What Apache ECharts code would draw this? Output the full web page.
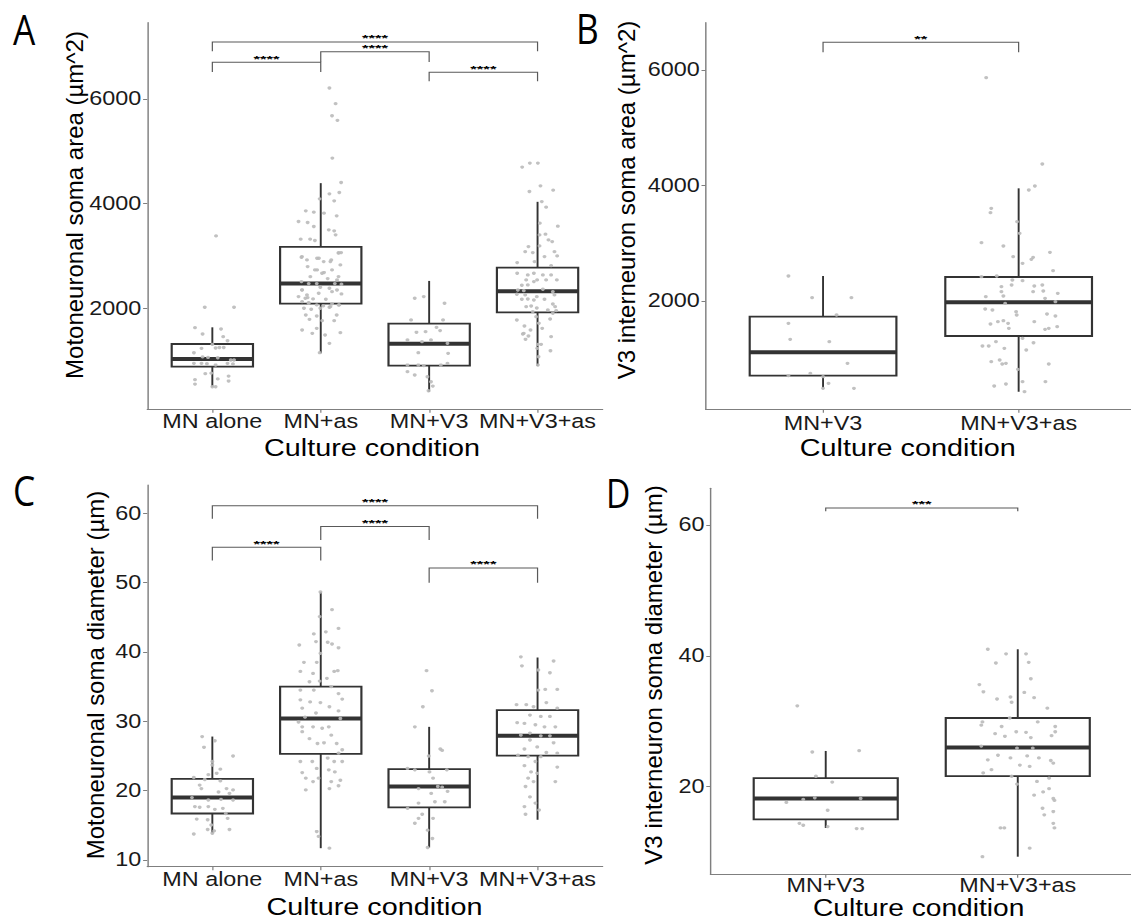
<!DOCTYPE html>
<html>
<head>
<meta charset="utf-8">
<script src="https://cdn.jsdelivr.net/npm/echarts@6/dist/echarts.min.js"></script>
<style>
html,body{margin:0;padding:0;background:#fff;}
#wrap{width:1131px;height:921px;overflow:hidden;position:relative;background:#fff;}
#chart{width:943px;height:921px;transform:scaleX(1.19936);transform-origin:0 0;}
</style>
</head>
<body>
<div id="wrap"><div id="chart"></div></div>
<script>
// ---------- DATA ----------
const catsMN = ['MN alone', 'MN+as', 'MN+V3', 'MN+V3+as'];
const catsV3 = ['MN+V3', 'MN+V3+as'];
const ticksArea = [2000, 4000, 6000];
const ticksDiamC = [10, 20, 30, 40, 50, 60];
const ticksDiamD = [20, 40, 60];

// box stats: [lower whisker, Q1, median, Q3, upper whisker]
const boxA = [[501, 884, 1030, 1317, 1636], [1139, 2089, 2472, 3174, 4392], [405, 903, 1324, 1707, 2523], [896, 1923, 2325, 2778, 4035]];
const boxB = [[488, 707, 1111, 1729, 2433], [429, 1394, 1977, 2416, 3951]];
const boxC = [[13.85, 16.7, 19.0, 21.7, 27.8], [11.7, 25.3, 30.4, 35.0, 48.65], [11.8, 17.6, 20.6, 23.1, 29.2], [15.8, 25.05, 27.9, 31.6, 39.2]];
const boxD = [[13.7, 15.0, 18.2, 21.3, 25.46], [9.3, 21.6, 26.0, 30.5, 41.0]];

// significance brackets: [from cat, to cat, bracket level, tip level]
const brA = [[1, 4, 7091, 6912], [2, 3, 6906, 6708], [1, 2, 6702, 6517], [3, 4, 6511, 6338]];
const brALabels = ['****', '****', '****', '****'];
const brB = [[1, 2, 6480, 6307]];
const brBLabels = ['**'];
const brC = [[1, 4, 61.1, 59.2], [2, 3, 58.1, 56.15], [1, 2, 55.1, 53.2], [3, 4, 52.1, 50.0]];
const brCLabels = ['****', '****', '****', '****'];
const brD = [[1, 2, 62.6, 62.1]];
const brDLabels = ['***'];

// jittered points: [horizontal jitter (category units), value]
const ptsA_alone = [[0.034,3384],[-0.07,2019],[0.2,2019],[-0.16,1629],[0.08,1604],[-0.09,1508],[0.1,1457],[0.14,1380],[0,1311],[-0.1,1234],[0.03,1240],[0.065,1250],[0.105,1250],[-0.17,1150],[-0.09,1070],[-0.04,1060],[0.05,1055],[0.17,1011],[0.2,1011],[-0.17,947],[-0.1,947],[-0.05,940],[0.14,947],[0.19,935],[0.03,915],[-0.065,750],[-0.01,760],[0.15,704],[-0.16,636],[0.05,650],[0.15,609],[-0.16,551],[0,500],[0.03,500]];
const ptsA_as = [[0.08,6210],[0.137,5911],[0.104,5681],[0.154,5592],[0.107,4871],[0.188,4405],[0.08,4188],[0.171,4214],[-0.01,4092],[0.124,4054],[-0.138,3863],[-0.064,3837],[0.03,3818],[0.147,3767],[-0.205,3659],[-0.121,3640],[-0.064,3563],[0.074,3499],[0.124,3480],[0.137,3404],[-0.185,3321],[-0.098,3321],[-0.054,3295],[0.164,3053],[0.188,3065],[-0.017,2957],[-0.178,2976],[0.097,2925],[0.181,2829],[-0.121,2797],[-0.054,2734],[0.03,2683],[0.164,2606],[0.064,2568],[-0.178,2510],[-0.111,2472],[-0.037,2472],[0.13,2472],[0.191,2459],[-0.172,2351],[-0.004,2402],[0.08,2383],[-0.205,2223],[-0.121,2204],[-0.071,2179],[0.047,2172],[0.191,2274],[-0.172,2128],[-0.111,2108],[-0.037,2064],[0.023,2045],[0.104,2083],[0.171,2064],[-0.155,2000],[-0.088,1981],[-0.004,2000],[0.08,2019],[-0.138,1872],[-0.037,1853],[0.147,1872],[-0.104,1789],[0.013,1764],[0.124,1764],[-0.172,1585],[-0.037,1617],[0.181,1534],[-0.078,1521],[0.04,1490],[0.08,1330],[-0.01,1151],[-0.173,2988],[-0.127,2924],[-0.034,2957],[0.027,2892],[0.089,2892],[0.165,3064],[-0.034,2733],[-0.096,2605],[0.012,2670],[0.104,2733],[0.15,2542],[-0.173,2350],[-0.127,2255],[-0.019,2287],[0.104,2318],[0.15,2350],[-0.142,2191],[-0.112,2096],[0.089,2031],[0.165,2063]];
const ptsA_V3 = [[-0.133,2191],[-0.05,2223],[0.142,2096],[-0.167,1777],[0.128,1777],[0.068,1636],[-0.033,1553],[-0.117,1541],[0.101,1573],[-0.2,1394],[-0.066,1362],[0.017,1394],[0.169,1330],[-0.1,1151],[0.175,1139],[-0.2,915],[-0.1,915],[-0.05,903],[0.108,915],[0.169,947],[-0.2,788],[-0.133,724],[-0.016,692],[0.017,596],[0.034,513],[-0.006,424]];
const ptsA_V3as = [[-0.142,4699],[-0.071,4775],[0.003,4775],[0.027,4341],[-0.075,4232],[0.144,4258],[0.039,4040],[0.079,3933],[0.021,3627],[0.187,3569],[0.018,3403],[0.073,3416],[0.101,3307],[0.135,3275],[-0.084,3179],[0.018,3192],[-0.114,3083],[-0.044,3064],[0.156,3083],[0.064,2988],[0.181,3001],[-0.188,2873],[-0.028,2892],[0.125,2815],[-0.188,2670],[-0.09,2637],[-0.034,2670],[-0.004,2542],[0.049,2637],[0.079,2542],[0.125,2637],[0.178,2542],[-0.105,2542],[-0.145,2440],[-0.09,2446],[-0.034,2510],[-0.182,2350],[-0.127,2337],[0.049,2364],[0.141,2318],[-0.191,2268],[-0.114,2255],[-0.007,2222],[0.156,2255],[-0.145,2172],[-0.09,2178],[-0.034,2159],[0.064,2172],[-0.105,2031],[-0.059,2044],[-0.007,2006],[0.141,2082],[0.162,2031],[-0.044,1935],[0.095,1968],[0.141,1904],[0.172,1955],[-0.191,1776],[-0.013,1839],[0.116,1795],[-0.121,1661],[-0.065,1585],[0.012,1713],[0.043,1617],[-0.127,1521],[-0.084,1470],[-0.111,1407],[0.125,1457],[0.003,1311],[0.033,1311],[0.119,1189],[-0.004,1234],[0.009,1074],[0.003,915],[-0.136,1508]];

const ptsB_V3 = [[-0.177,2433],[-0.056,2058],[0.145,2058],[0.069,1758],[-0.177,1613],[-0.168,1336],[0.032,1296],[0.125,921],[-0.065,747],[-0.177,707],[0,690],[0.028,574],[0.158,488],[0,488]];
const ptsB_V3as = [[-0.166,5867],[0.121,4372],[0.083,3991],[0.052,3922],[-0.14,3605],[-0.144,3530],[-0.008,3374],[0.005,3172],[-0.19,3010],[-0.078,2952],[-0.028,2768],[0.074,2756],[0.16,2843],[0.02,2652],[0.065,2722],[0.176,2525],[-0.19,2421],[-0.112,2433],[-0.032,2364],[0.02,2352],[-0.088,2248],[-0.036,2277],[0.08,2260],[0.121,2277],[-0.088,2162],[0.074,2162],[0.126,2173],[0.2,2133],[-0.168,2075],[-0.078,2087],[0.135,2046],[-0.069,1960],[0.188,1988],[-0.171,1861],[-0.134,1844],[-0.013,1815],[-0.01,1758],[0.145,1775],[0.188,1740],[-0.106,1642],[-0.078,1659],[0.08,1642],[-0.144,1602],[-0.054,1613],[-0.05,1527],[0.135,1509],[0.154,1527],[0.197,1556],[0.02,1354],[0.076,1278],[-0.185,1221],[-0.153,1221],[-0.116,1296],[-0.073,1180],[0.039,1152],[-0.14,950],[-0.097,978],[-0.065,921],[-0.084,909],[0.154,909],[-0.004,817],[0.02,603],[0.137,603],[-0.065,563],[-0.125,528],[0.03,430]];

const ptsC_alone = [[-0.094,27.8],[0.023,27.2],[-0.077,26.25],[0.191,25.0],[0,24.2],[0,23.7],[0.074,23.1],[-0.037,22.3],[0.04,22.5],[-0.171,21.9],[-0.07,21.6],[0.074,21.4],[-0.117,20.8],[-0.101,20.3],[0.131,20.3],[0.191,20.1],[0.057,19.8],[0.158,19.6],[-0.188,19.0],[-0.037,18.65],[0.08,18.75],[0.191,18.65],[-0.161,17.7],[-0.117,17.6],[-0.037,17.7],[0.023,17.3],[0.097,17.45],[0.124,16.7],[0.141,16.0],[-0.144,15.9],[-0.043,15.8],[-0.01,15.05],[-0.043,14.4],[0.017,14.2],[0.158,14.4],[-0.171,13.75],[0,13.85]];
const ptsC_as = [[-0.003,48.65],[0.104,46.1],[-0.01,45.1],[0.164,43.4],[0.047,42.9],[-0.064,42.6],[-0.044,41.5],[0.064,41.4],[-0.198,41.0],[0.104,41.15],[0.164,40.6],[-0.003,39.8],[-0.155,38.5],[-0.037,38.5],[-0.188,37.2],[-0.071,36.9],[0.124,37.2],[0.157,37.3],[0.057,36.2],[-0.104,35.7],[-0.01,35.8],[0.097,35.0],[-0.188,34.5],[-0.064,34.5],[0.164,34.0],[0.198,33.2],[-0.188,33.1],[-0.098,32.8],[-0.003,32.7],[0.08,32.1],[-0.171,31.9],[0.164,31.5],[-0.044,31.2],[-0.145,30.6],[0.181,30.4],[-0.205,29.9],[-0.171,29.2],[-0.071,29.2],[0.013,29.0],[0.074,29.2],[-0.171,28.5],[0.097,28.0],[-0.104,27.5],[-0.03,26.8],[0.03,26.9],[0.147,26.8],[0.164,25.4],[0.198,25.9],[0.064,24.7],[-0.188,24.2],[-0.078,24.2],[0.124,24.2],[0.198,24.2],[-0.037,23.2],[0.074,23.0],[-0.171,22.6],[0.13,22.7],[-0.138,21.8],[-0.02,21.8],[0.097,21.3],[-0.071,21.3],[0.181,21.5],[0.08,20.3],[-0.138,20.1],[0.164,20.7],[-0.02,13.4],[-0.037,14.1],[0.08,11.7]];
const ptsC_V3 = [[-0.024,37.3],[0.026,34.4],[-0.058,32.1],[-0.132,29.2],[-0.004,25.0],[0.103,26.0],[0.12,25.8],[-0.2,23.2],[-0.132,23.0],[0.003,22.7],[0.163,23.0],[0.036,21.8],[-0.098,20.3],[0.08,20.6],[0.12,20.5],[0.019,19.6],[0.17,19.9],[-0.098,18.2],[0.053,18.4],[0.144,18.4],[-0.199,17.45],[-0.064,16.6],[-0.098,16.0],[-0.132,15.3],[0.036,16.0],[-0.014,14.3],[0.03,13.1],[-0.014,11.8]];
const ptsC_V3as = [[-0.154,39.3],[0.148,38.7],[-0.144,38.0],[0.007,37.4],[0.114,37.0],[0.007,34.5],[0.071,34.6],[0.182,34.6],[-0.104,32.4],[-0.037,32.1],[0.081,32.7],[-0.194,32.4],[0.182,31.9],[-0.07,30.9],[0.03,30.7],[0.114,30.7],[-0.188,29.8],[-0.121,29.7],[-0.02,29.5],[0.064,29.2],[0.164,29.2],[-0.154,28.0],[-0.07,28.3],[0.03,27.9],[0.114,27.9],[-0.07,27.3],[0.148,26.9],[-0.003,26.3],[-0.121,26.0],[0.081,25.5],[-0.181,25.1],[-0.087,24.9],[0.03,24.9],[0.182,25.4],[-0.02,24.2],[-0.121,23.6],[-0.06,22.7],[-0.003,22.5],[0.182,23.4],[-0.087,21.8],[-0.037,21.3],[-0.111,20.6],[0.164,21.3],[-0.07,19.1],[-0.02,18.2],[-0.121,17.7],[0.014,17.2],[-0.111,16.6]];

const ptsD_V3 = [[-0.148,32.35],[-0.07,25.3],[0.174,25.5],[-0.051,21.6],[0.034,20.7],[-0.205,17.6],[-0.117,18.06],[-0.057,18.3],[0.182,18.2],[0.01,16.4],[-0.137,14.4],[-0.117,14.1],[0.161,13.6],[0.19,13.6],[0.01,13.9]];
const ptsD_V3as = [[-0.156,41.0],[-0.061,40.3],[0.043,40.3],[-0.114,38.9],[0.057,39.0],[0.068,36.5],[-0.2,35.6],[-0.179,34.5],[0.034,34.4],[-0.108,33.4],[-0.038,33.7],[-0.032,32.9],[0.085,33.6],[0.154,32.0],[-0.184,29.9],[-0.19,29.4],[-0.042,30.5],[0.104,29.9],[0.195,29.2],[-0.084,29.2],[-0.008,28.4],[0.043,28.3],[-0.118,28.1],[-0.067,27.7],[0.068,27.5],[0.176,27.8],[0.195,28.4],[-0.19,26.2],[-0.004,25.9],[0.078,25.9],[-0.103,24.8],[-0.156,24.1],[-0.038,24.4],[0.049,24.7],[0.11,24.4],[0.172,24.0],[0.185,23.6],[-0.137,22.6],[-0.18,22.1],[0.011,23.3],[0.062,23.1],[-0.032,21.6],[0.1,20.8],[0.163,21.3],[-0.004,20.4],[0.132,19.2],[0.163,19.7],[0.085,18.7],[0.185,18.2],[0.191,17.9],[0.129,16.7],[0.138,15.7],[0.185,16.2],[0.185,14.4],[0.191,13.7],[-0.09,13.7],[-0.07,13.7],[0.062,10.6],[-0.184,9.3]];

// ---------- LAYOUT ----------
const S = 1131 / 943;            // horizontal stretch of the original figure
const X = px => px / S;
const FONT = 'Liberation Sans, Arial, Helvetica, sans-serif';
const INK = '#333333';
const AXIS = '#7f7f7f';

const gridsPx = [
  {l: 147.3, r: 602.6, t: 22.7, b: 409.3},
  {l: 705.7, r: 1136.0, t: 22.7, b: 409.3},
  {l: 147.3, r: 602.6, t: 485.0, b: 866.7},
  {l: 710.5, r: 1133.0, t: 488.3, b: 874.3}
];
const yRanges = [[69, 7459], [125, 6819], [9.03, 64.08], [6.61, 65.6]];
const yTicks = [ticksArea, ticksArea, ticksDiamC, ticksDiamD];
const xCats = [catsMN, catsV3, catsMN, catsV3];
const xLabelMargin = [2, 4, 2.5, 1.5];

function renderBox(params, api) {
  const x = api.value(0);
  const lo = api.coord([x, api.value(1)]);
  const q1 = api.coord([x, api.value(2)]);
  const md = api.coord([x, api.value(3)]);
  const q3 = api.coord([x, api.value(4)]);
  const hi = api.coord([x, api.value(5)]);
  const hw = api.size([0.75, 0])[0] / 2;
  return {
    type: 'group',
    children: [
      {type: 'line', shape: {x1: lo[0], y1: lo[1], x2: q1[0], y2: q1[1]}, style: {stroke: INK, lineWidth: 1.6}},
      {type: 'line', shape: {x1: q3[0], y1: q3[1], x2: hi[0], y2: hi[1]}, style: {stroke: INK, lineWidth: 1.6}},
      {type: 'rect', shape: {x: q3[0] - hw, y: q3[1], width: 2 * hw, height: q1[1] - q3[1]}, style: {fill: '#ffffff', stroke: INK, lineWidth: 1.8}},
      {type: 'line', shape: {x1: md[0] - hw, y1: md[1], x2: md[0] + hw, y2: md[1]}, style: {stroke: INK, lineWidth: 4}}
    ]
  };
}

function makeBracketRenderer(labels) {
  return function (params, api) {
    const x1 = api.value(0), x2 = api.value(1), yl = api.value(2), yt = api.value(3);
    const a = api.coord([x1, yt]), b = api.coord([x1, yl]), c = api.coord([x2, yl]), d = api.coord([x2, yt]);
    return {
      type: 'group',
      children: [
        {type: 'polyline', shape: {points: [a, b, c, d]}, style: {stroke: '#595959', lineWidth: 1, fill: null}},
        {type: 'text', x: (b[0] + c[0]) / 2, y: b[1] - 3.6, scaleY: 0.62,
          style: {text: labels[params.dataIndex], fill: '#000', fontSize: 14, fontWeight: 'bold', fontFamily: FONT, align: 'center', verticalAlign: 'middle'}}
      ]
    };
  };
}

const grid = gridsPx.map(g => ({left: X(g.l), top: g.t, width: X(g.r - g.l), height: g.b - g.t, containLabel: false, outerBoundsMode: 'none'}));

const xAxis = xCats.map((cats, i) => ({
  type: 'value', gridIndex: i, min: 0.4, max: cats.length + 0.6,
  splitLine: {show: false},
  axisLine: {show: true, lineStyle: {color: AXIS, width: 1.2}},
  axisTick: {show: true, length: 3.5, lineStyle: {color: AXIS}, customValues: cats.map((c, k) => k + 1)},
  axisLabel: {customValues: cats.map((c, k) => k + 1), formatter: v => cats[Math.round(v) - 1] || '',
    color: '#1a1a1a', fontSize: 19.5, fontFamily: FONT, margin: xLabelMargin[i]}
}));

const yAxis = yRanges.map((r, i) => ({
  type: 'value', gridIndex: i, min: r[0], max: r[1],
  splitLine: {show: false},
  axisLine: {show: true, lineStyle: {color: AXIS, width: 1.2}},
  axisTick: {show: true, length: 3.5, lineStyle: {color: AXIS}, customValues: yTicks[i]},
  axisLabel: {customValues: yTicks[i], formatter: v => String(Math.round(v)), color: '#1a1a1a', fontSize: 19.5, fontFamily: FONT, margin: 5}
}));

function boxSeries(gi, stats) {
  return {type: 'custom', xAxisIndex: gi, yAxisIndex: gi, silent: true, z: 2,
    data: stats.map((s, k) => [k + 1].concat(s)), renderItem: renderBox};
}
function ptsSeries(gi, groups) {
  const data = [];
  groups.forEach((pts, k) => pts.forEach(p => data.push([k + 1 + p[0], p[1]])));
  return {type: 'scatter', xAxisIndex: gi, yAxisIndex: gi, silent: true, z: 3,
    symbol: 'circle', symbolSize: 3.3, itemStyle: {color: '#bababa', opacity: 0.9}, data: data};
}
function bracketSeries(gi, br, labels) {
  return {type: 'custom', xAxisIndex: gi, yAxisIndex: gi, silent: true, z: 4,
    data: br, renderItem: makeBracketRenderer(labels)};
}

const series = [
  boxSeries(0, boxA), ptsSeries(0, [ptsA_alone, ptsA_as, ptsA_V3, ptsA_V3as]), bracketSeries(0, brA, brALabels),
  boxSeries(1, boxB), ptsSeries(1, [ptsB_V3, ptsB_V3as]), bracketSeries(1, brB, brBLabels),
  boxSeries(2, boxC), ptsSeries(2, [ptsC_alone, ptsC_as, ptsC_V3, ptsC_V3as]), bracketSeries(2, brC, brCLabels),
  boxSeries(3, boxD), ptsSeries(3, [ptsD_V3, ptsD_V3as]), bracketSeries(3, brD, brDLabels)
];

function letter(t, xPx, yPx, size) {
  return {type: 'text', x: X(xPx), y: yPx, scaleX: 0.7,
    style: {text: t, fill: '#000', fontSize: size, fontFamily: 'Open Sans, Liberation Sans, sans-serif', align: 'left', verticalAlign: 'middle'}};
}
function yTitle(t, xPx, yPx) {
  return {type: 'text', x: X(xPx), y: yPx, rotation: Math.PI / 2, scaleY: 1 / S,
    style: {text: t, fill: '#000', fontSize: 24, fontFamily: FONT, align: 'center', verticalAlign: 'middle'}};
}
function xTitle(t, xPx, yPx, size) {
  return {type: 'text', x: X(xPx), y: yPx,
    style: {text: t, fill: '#000', fontSize: size || 24, fontFamily: FONT, align: 'center', verticalAlign: 'middle'}};
}

const graphic = [
  letter('A', 13, 29, 42), letter('B', 576, 28, 42), letter('C', 13, 490, 42), letter('D', 606, 493, 40),
  yTitle('Motoneuronal soma area (µm^2)', 74, 205),
  yTitle('V3 interneuron soma area (µm^2)', 626.5, 200),
  yTitle('Motoneuronal soma diameter (µm)', 95.5, 675),
  yTitle('V3 interneuron soma diameter (µm)', 654, 675),
  xTitle('Culture condition', 372, 447.5),
  xTitle('Culture condition', 907.8, 447.5),
  xTitle('Culture condition', 374.5, 906.5),
  xTitle('Culture condition', 918.7, 907.8, 23.5)
];

const chart = echarts.init(document.getElementById('chart'), null, {renderer: 'svg'});
chart.setOption({
  animation: false,
  backgroundColor: '#ffffff',
  grid: grid, xAxis: xAxis, yAxis: yAxis, series: series, graphic: graphic
});
</script>
</body>
</html>
